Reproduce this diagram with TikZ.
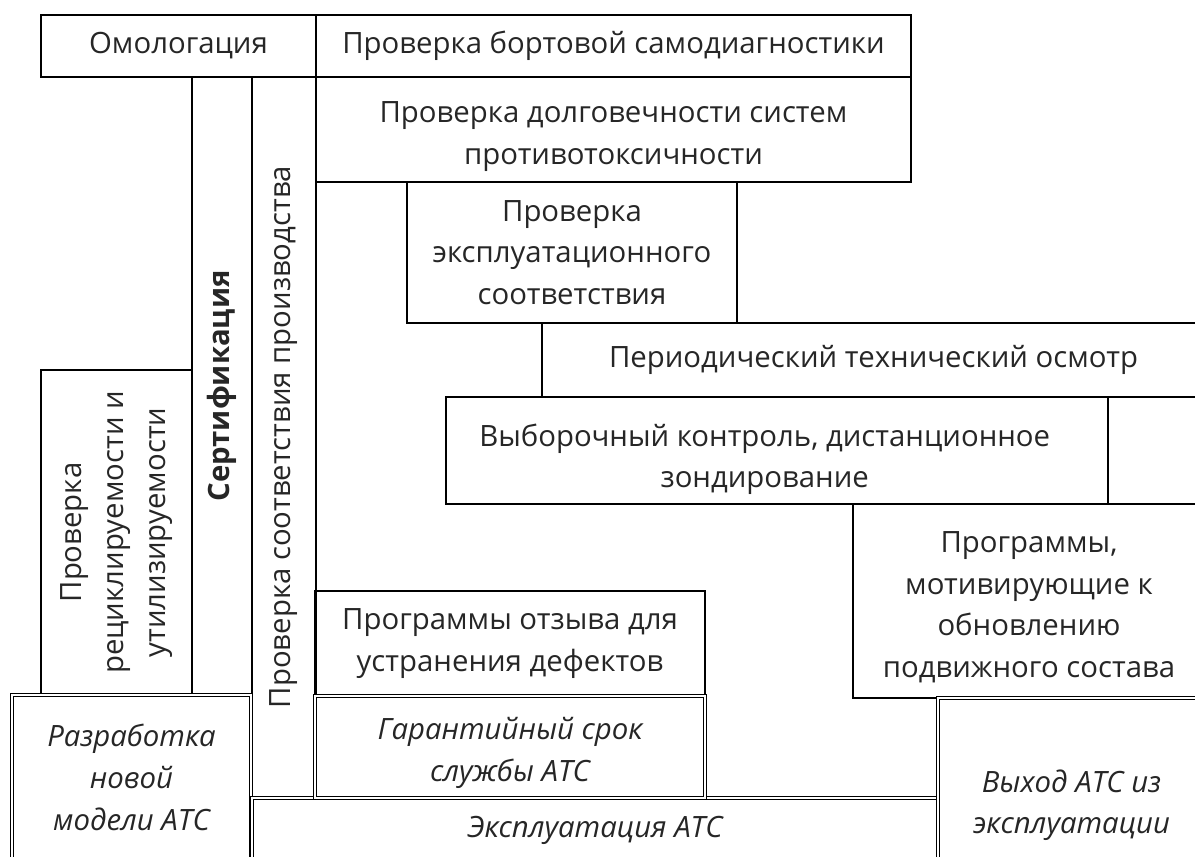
\documentclass[tikz,border=0pt]{standalone}
\usepackage{fontspec}
\setmainfont{Open Sans}
\usetikzlibrary{positioning}
\usetikzlibrary{fit}

\begin{document}
\begin{tikzpicture}[x=0.02cm,y=-0.02cm,
    box/.style={draw,line width=1.1pt,inner sep=0pt},
    stage/.style={box,double,line width=0.7pt,double distance=1.3pt},
    txt/.style={align=center,inner sep=0pt,
      font=\fontsize{16.7}{23.8}\selectfont,text=black!85},
    stagetxt/.style={txt,font=\fontsize{16.7}{23.8}\selectfont\itshape},
    vert/.style={txt,rotate=90}]

  \useasboundingbox (0,0) rectangle (1195,857);
  \clip (0,0) rectangle (1195,857);

  % top row and columns
  \node[box, fit={(41,15) (316,77)}]   (omol)  {};
  \node[box, fit={(316,15) (911,77)}]  (obd)   {};
  \node[box, fit={(316,77) (911,182)}] (dur)   {};
  \node[box, fit={(192,77) (252,695)}] (cert)  {};
  \node[box, fit={(252,77) (316,797)}] (cop)   {};
  \node[box, fit={(41,370) (192,695)}] (recyc) {};
  \node[txt] (omol-t) at (omol) {Омологация};
  \node[txt] (obd-t)  at (obd)  {Проверка бортовой самодиагностики};
  \node[txt] (dur-t)  at ([yshift=-4pt]dur.center) {Проверка долговечности систем\\противотоксичности};
  \node[vert, font=\fontsize{16.7}{23.8}\selectfont\bfseries] (cert-t) at (cert) {Сертификация};
  \node[vert] (cop-t)   at (cop)   {Проверка соответствия производства};
  \node[vert] (recyc-t) at (recyc) {Проверка\\рециклируемости и\\утилизируемости};

  % staircase
  \node[box, fit={(407,182) (737,323)}]   (isc)    {};
  \node[box, fit={(542,323) (1205,397)}]  (pti)    {};
  \node[box, fit={(446,397) (1108,504)}]  (rsd)    {};
  \node[box, fit={(1108,397) (1205,504)}] (rsd-r)  {};
  \node[box, fit={(853,504) (1205,698)}]  (scrap)  {};
  \node[box, fit={(315,591) (705,696)}]   (recall) {};
  \node[txt] (isc-t)    at (isc)    {Проверка\\эксплуатационного\\соответствия};
  \node[txt] (pti-t)    at (pti)    {Периодический технический осмотр};
  \node[txt] (rsd-t)    at ([xshift=-7pt,yshift=-5pt]rsd.center) {Выборочный контроль, дистанционное\\зондирование};
  \node[txt] (scrap-t)  at ([yshift=-3.5pt]scrap.center) {Программы,\\мотивирующие к\\обновлению\\подвижного состава};
  \node[txt] (recall-t) at (recall) {Программы отзыва для\\устранения дефектов};

  % life cycle stages
  \node[stage, fit={(12,695) (251,860)}]   (dev)  {};
  \node[stage, fit={(252,798) (938,862)}]  (use)  {};
  \node[stage, fit={(315,696) (705,798)}]  (warr) {};
  \node[stage, fit={(938,698) (1205,900)}] (eol)  {};
  \node[stagetxt] (dev-t)  at (dev)  {Разработка\\новой\\модели АТС};
  \node[stagetxt] (use-t)  at (use)  {Эксплуатация АТС};
  \node[stagetxt] (warr-t) at ([yshift=-3.5pt]warr.center) {Гарантийный срок\\службы АТС};
  \node[stagetxt] (eol-t)  at ([yshift=-3.5pt]eol.center)  {Выход АТС из\\эксплуатации};
\end{tikzpicture}
\end{document}
